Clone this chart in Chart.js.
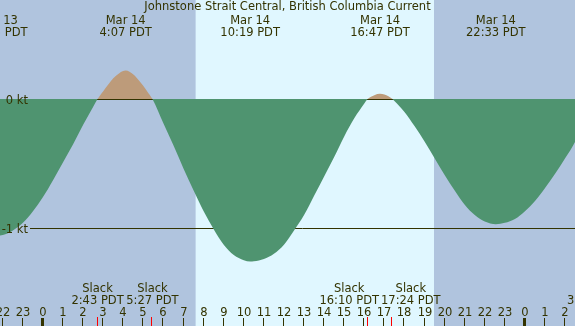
<!DOCTYPE html>
<html lang="en">
<head>
<meta charset="UTF-8">
<title>Johnstone Strait Central, British Columbia Current</title>
<style>
  html, body { margin: 0; padding: 0; background: #b0c4de; }
  #wrap { width: 575px; height: 326px; position: relative; }
</style>
</head>
<body>
<div id="wrap"><canvas id="tide"></canvas></div>
<script src="https://cdn.jsdelivr.net/npm/chart.js"></script>
<script>
// hours from Mar 14 00:00 PDT, current speed in knots (flood +, ebb -)
const times  = [-3, -2.5, -2.28, -2, -1.5, -1, -0.5, 0, 0.5, 1, 1.5, 2, 2.5, 2.717,
                3, 3.5, 3.8, 4.117, 4.5, 4.8, 5, 5.25, 5.45,
                6, 6.5, 7, 7.5, 8, 8.5, 9, 9.5, 10, 10.317, 10.5, 11, 11.5, 12, 12.5, 13, 13.5, 14, 14.5, 15, 15.5, 16, 16.167,
                16.5, 16.783, 17, 17.4,
                17.5, 18, 18.5, 19, 19.5, 20, 20.5, 21, 21.5, 22, 22.55, 23, 23.5, 24, 24.5, 25, 25.5, 26, 26.5, 27, 27.4];
const speeds = [-1.03, -1.058, -1.06, -1.055, -1.02, -0.96, -0.87, -0.76, -0.63, -0.49, -0.35, -0.20, -0.06, 0,
                0.06, 0.16, 0.20, 0.22, 0.19, 0.14, 0.10, 0.045, 0,
                -0.19, -0.36, -0.54, -0.71, -0.87, -1.01, -1.13, -1.21, -1.25, -1.26, -1.258, -1.24, -1.20, -1.13, -1.02, -0.90, -0.75, -0.60, -0.45, -0.29, -0.15, -0.035, 0,
                0.03, 0.04, 0.034, 0,
                -0.015, -0.10, -0.21, -0.33, -0.46, -0.59, -0.71, -0.82, -0.90, -0.95, -0.97, -0.96, -0.93, -0.87, -0.79, -0.69, -0.58, -0.46, -0.33, -0.15, 0];

const extremeTimes = [-2.25, 4.117, 10.317, 16.783, 22.55];
const extremeDates = ['Mar 13', 'Mar 14', 'Mar 14', 'Mar 14', 'Mar 14'];
const extremeClock = ['21:45 PDT', '4:07 PDT', '10:19 PDT', '16:47 PDT', '22:33 PDT'];

const slackTimes = [2.717, 5.45, 16.167, 17.4, 27.4];
const slackClock = ['2:43 PDT', '5:27 PDT', '16:10 PDT', '17:24 PDT', '3:24 PDT'];

const hourTicks  = [-2, -1, 0, 1, 2, 3, 4, 5, 6, 7, 8, 9, 10, 11, 12, 13, 14, 15, 16, 17, 18, 19, 20, 21, 22, 23, 24, 25, 26];
const hourLabels = ['22', '23', '0', '1', '2', '3', '4', '5', '6', '7', '8', '9', '10', '11', '12', '13', '14', '15', '16', '17', '18', '19', '20', '21', '22', '23', '0', '1', '2'];

const speedLines  = [0, -1];
const speedLabels = ['0 kt', '-1 kt'];

const sunrise = 7.6;
const sunset = 19.47;

const ink = '#333300';
const font = '11.5px "DejaVu Sans"';

const backdrop = {
  id: 'backdrop',
  beforeDraw(chart) {
    const { ctx, chartArea: a, scales: { x } } = chart;
    ctx.save();
    ctx.fillStyle = '#b0c4de';
    ctx.fillRect(a.left, a.top, a.right - a.left, a.bottom - a.top);
    const x1 = x.getPixelForValue(sunrise), x2 = x.getPixelForValue(sunset);
    ctx.fillStyle = '#e0f7ff';
    ctx.fillRect(x1, a.top, x2 - x1, a.bottom - a.top);
    ctx.restore();
  },
  beforeDatasetsDraw(chart) {
    // reference lines sit under the fill, so ebb areas hide them
    const { ctx, chartArea: a, scales: { y } } = chart;
    ctx.save();
    ctx.strokeStyle = ink;
    ctx.lineWidth = 1;
    speedLines.forEach(v => {
      const py = Math.round(y.getPixelForValue(v)) + 0.5;
      ctx.beginPath();
      ctx.moveTo(30, py);
      ctx.lineTo(a.right, py);
      ctx.stroke();
    });
    ctx.restore();
  }
};

const labels = {
  id: 'labels',
  afterDraw(chart) {
    const { ctx, chartArea: a, scales: { x, y } } = chart;
    ctx.save();
    ctx.font = font;
    ctx.fillStyle = ink;
    ctx.textBaseline = 'alphabetic';

    ctx.textAlign = 'center';
    ctx.fillText('Johnstone Strait Central, British Columbia Current', (a.left + a.right) / 2, 10);

    extremeTimes.forEach((t, i) => {
      const px = x.getPixelForValue(t);
      ctx.fillText(extremeDates[i], px, 24);
      ctx.fillText(extremeClock[i], px, 36);
    });

    // slack labels: push neighbours apart when they would overlap
    const sx = slackTimes.map(t => x.getPixelForValue(t));
    const sw = slackClock.map(s => ctx.measureText(s).width);
    for (let i = 1; i < sx.length; i++) {
      const need = (sw[i] + sw[i - 1]) / 2 + 2;
      const gap = sx[i] - sx[i - 1];
      if (gap < need) {
        sx[i - 1] -= (need - gap) / 2;
        sx[i] += (need - gap) / 2;
      }
    }
    sx.forEach((px, i) => {
      ctx.fillText('Slack', px, 292);
      ctx.fillText(slackClock[i], px, 304);
    });

    hourTicks.forEach((h, i) => {
      const px = Math.round(x.getPixelForValue(h));
      ctx.fillText(hourLabels[i], px, 316);
      if (hourLabels[i] === '0') {
        ctx.fillRect(px - 2, 318, 3, 8);
      } else {
        ctx.fillRect(px - 1, 318, 1, 8);
      }
    });

    ctx.fillStyle = '#ff0000';
    slackTimes.forEach(t => {
      const px = Math.round(x.getPixelForValue(t));
      ctx.fillRect(px - 1, 317, 1, 9);
    });

    ctx.fillStyle = ink;
    ctx.textAlign = 'right';
    speedLines.forEach((v, i) => {
      ctx.fillText(speedLabels[i], 28, y.getPixelForValue(v) + 5);
    });
    ctx.restore();
  }
};

new Chart(document.getElementById('tide'), {
  type: 'line',
  data: {
    datasets: [{
      data: times.map((t, i) => ({ x: t, y: speeds[i] })),
      borderColor: 'transparent',
      borderWidth: 0,
      pointRadius: 0,
      cubicInterpolationMode: 'monotone',
      fill: { target: { value: 0 }, above: '#bd9b7a', below: '#4f9470' }
    }]
  },
  options: {
    responsive: true,
    maintainAspectRatio: false,
    animation: false,
    layout: { padding: 0 },
    plugins: { legend: { display: false }, tooltip: { enabled: false } },
    scales: {
      x: { type: 'linear', min: -2.141, max: 26.492, display: false },
      y: { type: 'linear', min: -1.7597, max: 0.7674, display: false }
    }
  },
  plugins: [backdrop, labels]
});
</script>
</body>
</html>
